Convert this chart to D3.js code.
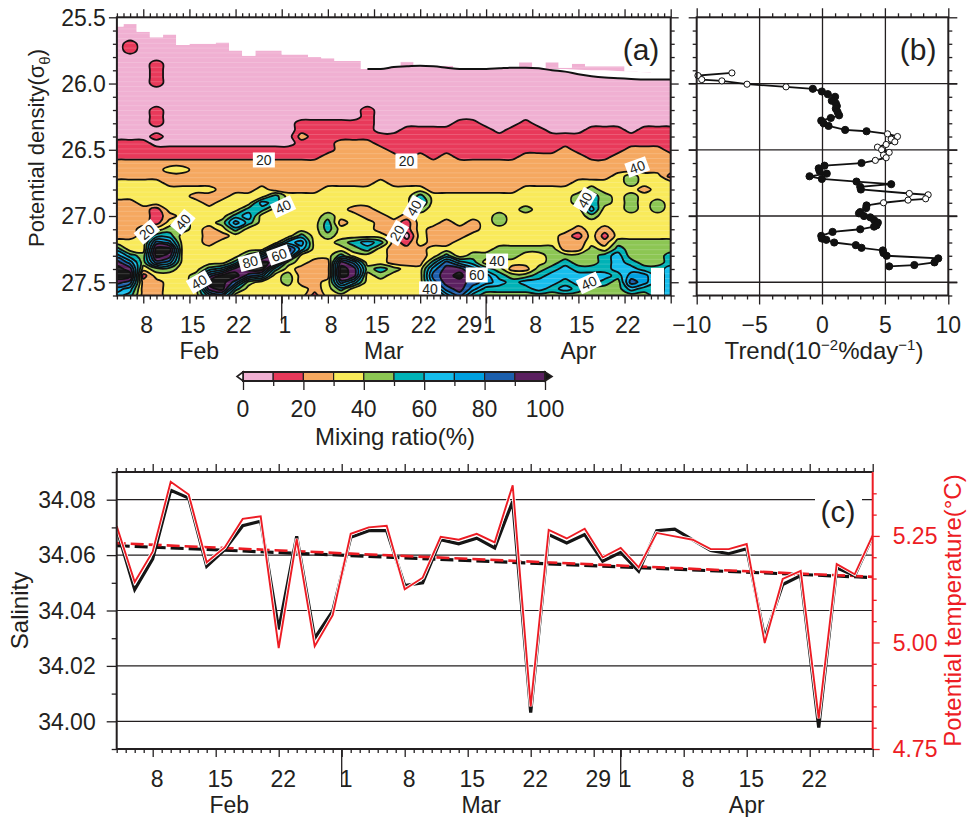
<!DOCTYPE html>
<html>
<head>
<meta charset="utf-8">
<script src="https://cdn.jsdelivr.net/npm/d3@7"></script>
<style>
  html, body { margin: 0; padding: 0; background: #fff; }
  svg { display: block; }
  text { font-family: "Liberation Sans", Arial, Helvetica, sans-serif; fill: #231f20; }
</style>
</head>
<body>
<svg id="fig" width="967" height="817"></svg>
<script>
// ---------------- data ----------------
// CTD profiles, one every two days
const profileDates = [
  "2009-02-04","2009-02-06","2009-02-08","2009-02-10","2009-02-12","2009-02-14","2009-02-16",
  "2009-02-18","2009-02-20","2009-02-22","2009-02-24","2009-02-26","2009-02-28",
  "2009-03-02","2009-03-04","2009-03-06","2009-03-08","2009-03-10","2009-03-12","2009-03-14",
  "2009-03-16","2009-03-18","2009-03-20","2009-03-22","2009-03-24","2009-03-26","2009-03-28","2009-03-30",
  "2009-04-01","2009-04-03","2009-04-05","2009-04-07","2009-04-09","2009-04-11","2009-04-13",
  "2009-04-15","2009-04-17","2009-04-19","2009-04-21","2009-04-23","2009-04-25","2009-04-27","2009-04-29"
];

// (c) mean salinity and potential temperature
const salinity = [
  34.0695, 34.0476, 34.0586, 34.0834, 34.0806, 34.0560, 34.0620, 34.0706, 34.0722, 34.0332,
  34.0668, 34.0300, 34.0398, 34.0664, 34.0688, 34.0688, 34.0490, 34.0500, 34.0656, 34.0641,
  34.0661, 34.0626, 34.0794, 34.0031, 34.0674, 34.0644, 34.0674, 34.0578, 34.0610, 34.0542,
  34.0688, 34.0694, 34.0655, 34.0617, 34.0605, 34.0623, 34.0301, 34.0494, 34.0526, 33.9977,
  34.0554, 34.0526, 34.0668
];
const temperature = [
  5.273, 5.142, 5.213, 5.377, 5.347, 5.188, 5.223, 5.290, 5.296, 4.987,
  5.243, 4.991, 5.064, 5.255, 5.270, 5.274, 5.125, 5.152, 5.248, 5.241,
  5.255, 5.235, 5.369, 4.850, 5.264, 5.244, 5.267, 5.200, 5.222, 5.176,
  5.257, 5.249, 5.241, 5.219, 5.219, 5.231, 4.999, 5.149, 5.168, 4.822,
  5.184, 5.160, 5.251
];
const salinityTrend = [34.0634, 34.0519];
const temperatureTrend = [5.233, 5.154];

// (b) trend of the mixing ratio on density surfaces
const trendDensity = [
  25.92, 25.94, 25.97, 25.98, 26.005, 26.025, 26.04, 26.06, 26.08, 26.10,
  26.13, 26.15, 26.17, 26.19, 26.215, 26.24, 26.26, 26.28, 26.30, 26.32,
  26.35, 26.36, 26.38, 26.40, 26.42, 26.44, 26.46, 26.48, 26.50, 26.52,
  26.54, 26.56, 26.58, 26.60, 26.62, 26.64, 26.66, 26.68, 26.70, 26.72,
  26.74, 26.76, 26.78, 26.80, 26.83, 26.84, 26.87, 26.88, 26.90, 26.92,
  26.94, 26.97, 26.98, 27.00, 27.01, 27.03, 27.05, 27.07, 27.08, 27.10,
  27.12, 27.15, 27.17, 27.18, 27.20, 27.22, 27.24, 27.26, 27.28, 27.30,
  27.32, 27.35, 27.37, 27.38
];
const trendValue = [
  -7.2, -9.9, -9.6, -8.0, -6.0, -2.9, -0.77, -0.05, 0.42, 1.0,
  0.74, 1.06, 1.14, 1.06, 1.2, 1.32, 0.66, -0.1, 0.08, 0.48,
  1.8, 3.5, 5.17, 5.96, 5.46, 5.75, 5.06, 4.37, 4.7, 5.3,
  4.85, 5.06, 4.2, 3.1, 0.16, -0.3, -0.24, 0.34, -1.03, -0.05,
  2.7, 5.46, 3.0, 3.05, 6.9, 8.4, 8.2, 6.8, 4.85, 3.5,
  3.47, 3.0, 2.9, 3.3, 3.8, 4.1, 4.4, 4.3, 4.1, 3.0,
  0.8, -0.1, -0.05, 0.3, 0.93, 2.65, 3.1, 4.8, 4.85, 5.1,
  9.2, 8.9, 7.3, 5.3
];
const trendSignificant = [
  0,0,0,0,0,0,1,1,1,1, 1,1,1,1,1,1,1,1,1,1, 1,1,0,0,0,0,0,0,0,0,
  0,0,0,1,1,1,1,1,1,1, 1,1,1,1,0,0,0,0,0,1, 1,1,1,1,1,1,1,1,1,1,
  1,1,1,1,1,1,1,1,1,1, 1,1,1,1
];

// (a) mixing ratio: one string per profile, one character per density row
// (digit n = the n-th 10 % band, "x" = above 100 %), rows start at 25.50 and step by 0.05
const densityFirstRow = 25.5;
const densityRowStep = 0.05;
const mixingColumns = [
  "00000000000000000001112223332222223579xx976",
  "000011000000000000011122233322222233579x865",
  "0000000000000000000111222333322233334431222",
  "00000001111000111010112223333111358xx843222",
  "00000000000000000000112322333323457x9743333",
  "0000000000000000000011232233333443333333333",
  "0000000000000000000011222232333333333334433",
  "0000000000000000000011222232233322233358x96",
  "000000000000000000001122222233343233336xxx7",
  "000000000000000000001122222333575333359x853",
  "000000000000000000001122222335653333 59x8433".replace(" ", ""),
  "0000000000000000000011222233653333337xx7333",
  "000000000000000000001122222553333337x953333",
  "0000000000000000000011222223333333698434433",
  "0000000000000000112111222223333335763322233",
  "0000000000000000111111222223333333333222221",
  "0000000000000000111112222233334554333222333",
  "00000000000000001112222222333332334359xx853",
  "0000000000000000111222222233323333543799633",
  "0000000000000011111222222233322333653343333",
  "0000000000000000001122222333332223533354333",
  "0000000000000000001112222233333222222243333",
  "0000000000000000011111222233332110122233333",
  "0000000000000000011112222235643333322233333",
  "0000000000000000011111222223333322233578753",
  "0000000000000000011112222223333222235899986",
  "0000000000000000111111222223333322333 69x998".replace(" ", ""),
  "0000000000000000111111222223333223334578875",
  "0000000000000000011111222223333333334357754",
  "0000000000000000001111222223334433344345654",
  "0000000000000000011111222223333333344324554",
  "0000000000000000111112222233343333343324654",
  "0000000000000000011112222233333333343345664",
  "0000000000000000001112222233333333344456654",
  "0000000000000000001122222233333332224566564",
  "0000000000000000001112222334433321224456654",
  "0000000000000000011111222345564333344456644",
  "0000000000000000011111222334433321235556544",
  "0000000000000000011112223333333333456665444",
  "0000000000000000001122224434443333444567864",
  "0000000000000000011122223323333333444457754",
  "0000000000000000011122223333443333444455555",
  "0000000000000000011112221333333333445566666"
];
// shallowest and deepest density with data, per profile
const dataTop = [
  25.57, 25.55, 25.61, 25.65, 25.63, 25.71, 25.70, 25.70, 25.69, 25.75,
  25.79, 25.75, 25.75, 25.78, 25.78, 25.80, 25.81, 25.83, 25.83, 25.89,
  25.89, 25.875, 25.835, 25.865, 25.87, 25.865, 25.89, 25.89, 25.89, 25.885,
  25.88, 25.84, 25.885, 25.84, 25.88, 25.85, 25.87, 25.87, 25.87, 25.91,
  25.915, 25.92, 25.92
];
const dataBottom = [
  27.6, 27.6, 27.6, 27.6, 27.6, 27.6, 27.6, 27.6, 27.6, 27.6,
  27.6, 27.6, 27.6, 27.6, 27.6, 27.6, 27.6, 27.6, 27.6, 27.6,
  27.6, 27.6, 27.6, 27.6, 27.6, 27.6, 27.6, 27.6, 27.6, 27.6,
  27.6, 27.6, 27.6, 27.6, 27.6, 27.6, 27.6, 27.6, 27.6, 27.6,
  27.6, 27.39, 27.6
];
// upper rim of the surface layer (profiles 19..42) and the gap above it (profiles 33..42)
const rimFirst = 19;
const rimLine = [
  25.89, 25.89, 25.875, 25.87, 25.865, 25.87, 25.88, 25.89, 25.89, 25.89,
  25.885, 25.88, 25.88, 25.885, 25.9, 25.91, 25.93, 25.945, 25.955, 25.96,
  25.965, 25.97, 25.97, 25.97
];
const gapFirst = 33;
const rimGapTop = [25.89, 25.89, 25.895, 25.9, 25.9, 25.905, 25.91, 25.915, 25.92, 25.92];

// inline contour labels
const contourLabelText = ["20","20","40","40","20","40","20","40","40","80","60","40","40","60","40","40"];
const contourLabelTime = [
  "2009-02-26T07:00Z","2009-03-19T22:00Z","2009-04-23T22:00Z","2009-03-01T05:00Z",
  "2009-02-08T13:00Z","2009-02-14T00:00Z","2009-03-18T12:00Z","2009-03-21T02:00Z",
  "2009-04-16T00:00Z","2009-02-24T05:00Z","2009-02-28T14:00Z","2009-02-16T11:00Z",
  "2009-03-23T12:00Z","2009-03-30T14:00Z","2009-04-02T16:00Z","2009-04-16T14:00Z"
];
const contourLabelDensity = [26.577, 26.585, 26.63, 26.93, 27.12, 27.045, 27.128, 26.94, 26.879, 27.347, 27.294, 27.498, 27.55, 27.445, 27.34, 27.505];
const contourLabelAngle = [0, 0, -20, -25, -40, -50, -60, -60, -60, -15, -20, -30, 0, 0, 0, -25];

const mixLevels = [0, 10, 20, 30, 40, 50, 60, 70, 80, 90, 100];
const mixColors = ["#f0b0d2", "#e8395a", "#f5a860", "#f9ea5a", "#8cc653", "#00b2b6", "#16bdec", "#00a0e0", "#1c5fad", "#5b2060"];
const overflowColor = "#161616";
const labelledDays = [1, 8, 15, 22, 29];

// ---------------- drawing ----------------
const ink = "#231f20";
const red = "#ed1c24";
const svg = d3.select("#fig");
const dates = profileDates.map(d => new Date(d + "T00:00Z"));
const tickFont = 23;

// panel layouts
const A = { l: 116.9, r: 670.7, t: 17.3, b: 295.5 };
const B = { l: 696.7, r: 948.3, t: 17.3, b: 295.5 };
const C = { l: 116.7, r: 872.7, t: 472, b: 749 };
const CB = { l: 243, r: 545, t: 372, b: 381 };

const xA = d3.scaleUtc().domain(d3.extent(dates)).range([A.l, A.r]);
const yA = d3.scaleLinear().domain([25.5, 27.6]).range([A.t, A.b]);
const xB = d3.scaleLinear().domain([-10, 10]).range([B.l, B.r]);
const xC = d3.scaleUtc().domain(d3.extent(dates)).range([C.l, C.r]);
const yS = d3.scaleLinear().domain([33.99, 34.09]).range([C.b, C.t]);
const yT = d3.scaleLinear().domain([4.75, 5.40]).range([C.b, C.t]);
const xCB = d3.scaleLinear().domain([0, 100]).range([CB.l, CB.r]);

const defs = svg.append("defs");
defs.append("clipPath").attr("id", "clipA").append("rect")
  .attr("x", A.l).attr("y", A.t).attr("width", A.r - A.l).attr("height", A.b - A.t);
defs.append("clipPath").attr("id", "clipC").append("rect")
  .attr("x", C.l).attr("y", C.t - 2).attr("width", C.r - C.l).attr("height", C.b - C.t + 4);

function styleAxis(g) {
  g.select(".domain").remove();
  g.selectAll(".tick line").attr("stroke-width", 1.3);
  g.selectAll(".tick text").remove();
}

// daily ticks, weekly longer ticks, month boundaries, day & month labels
function timeAxis(x, top, bottom, monthTick, dayBase, monthBase) {
  const [d0, d1] = x.domain();
  const days = d3.utcDay.range(d0, d3.utcDay.offset(d1, 1));
  const major = days.filter(d => labelledDays.includes(d.getUTCDate()));
  const minor = days.filter(d => !labelledDays.includes(d.getUTCDate()));
  const g = svg.append("g").attr("color", ink);
  g.append("g").attr("transform", `translate(0,${bottom})`)
    .call(d3.axisBottom(x).tickValues(minor).tickSize(4).tickFormat("")).call(styleAxis);
  g.append("g").attr("transform", `translate(0,${bottom})`)
    .call(d3.axisBottom(x).tickValues(major).tickSize(8).tickFormat("")).call(styleAxis);
  g.append("g").attr("transform", `translate(0,${top})`)
    .call(d3.axisTop(x).tickValues(minor).tickSize(4).tickFormat("")).call(styleAxis);
  g.append("g").attr("transform", `translate(0,${top})`)
    .call(d3.axisTop(x).tickValues(major).tickSize(8).tickFormat("")).call(styleAxis);
  d3.utcMonth.range(d0, d1).forEach(m => {
    g.append("line").attr("x1", x(m)).attr("x2", x(m))
      .attr("y1", bottom).attr("y2", bottom + monthTick)
      .attr("stroke", ink).attr("stroke-width", 1.3);
  });
  major.forEach(d => {
    const noon = d3.utcHour.offset(d, 12);
    if (noon > d1) return;
    g.append("text").attr("x", x(noon)).attr("y", dayBase)
      .attr("text-anchor", "middle").attr("font-size", tickFont).text(d.getUTCDate());
  });
  d3.utcMonth.range(d3.utcMonth.floor(d0), d1).forEach(m => {
    const a = m < d0 ? d0 : m;
    const e = d3.utcMonth.offset(m, 1);
    const b = e > d1 ? d1 : e;
    g.append("text").attr("x", (x(a) + x(b)) / 2).attr("y", monthBase)
      .attr("text-anchor", "middle").attr("font-size", tickFont)
      .text(d3.utcFormat("%b")(m));
  });
}

function densityTicks(xPos, side, withLabels, majorLen) {
  const minor = d3.range(25.5, 27.61, 0.1).map(v => +v.toFixed(2));
  const major = [25.5, 26.0, 26.5, 27.0, 27.5];
  const mk = side === "left" ? d3.axisLeft : d3.axisRight;
  const g = svg.append("g").attr("color", ink);
  g.append("g").attr("transform", `translate(${xPos},0)`)
    .call(mk(yA).tickValues(minor.filter(v => !major.includes(v))).tickSize(4).tickFormat("")).call(styleAxis);
  g.append("g").attr("transform", `translate(${xPos},0)`)
    .call(mk(yA).tickValues(major).tickSize(majorLen).tickFormat("")).call(styleAxis);
  if (withLabels) {
    major.forEach(v => g.append("text").attr("x", xPos - 11).attr("y", yA(v)).attr("dy", "0.36em")
      .attr("text-anchor", "end").attr("font-size", tickFont).text(d3.format(".1f")(v)));
  }
}

// ---------- panel (a): mixing ratio ----------
const nx = mixingColumns.length, ny = mixingColumns[0].length;
const grid = new Array(nx * ny);
for (let i = 0; i < nx; i++) {
  for (let j = 0; j < ny; j++) {
    const ch = mixingColumns[i][j] ?? "3";
    grid[j * nx + i] = ch === "x" ? 105 : (+ch) * 10 + 5;
  }
}
const colStep = dates[1] - dates[0];
const gx2px = gx => xA(new Date(+dates[0] + (gx - 0.5) * colStep));
const gy2px = gy => yA(densityFirstRow + (gy - 0.5) * densityRowStep);
const clampX = v => Math.max(A.l, Math.min(A.r, v));

// region holding data (stepped, one step per profile)
const region = [];
for (let k = 0; k < nx; k++) {
  const y = yA(dataTop[k]);
  region.push([clampX(gx2px(k)), y], [clampX(gx2px(k + 1)), y]);
}
for (let k = nx - 1; k >= 0; k--) {
  const y = yA(dataBottom[k]);
  region.push([clampX(gx2px(k + 1)), y], [clampX(gx2px(k)), y]);
}
const regionPath = "M" + region.map(p => p.join(",")).join("L") + "Z";
defs.append("clipPath").attr("id", "clipData").append("path").attr("d", regionPath);

const gA = svg.append("g").attr("clip-path", "url(#clipA)");
const gData = gA.append("g").attr("clip-path", "url(#clipData)");
gData.append("path").attr("d", regionPath).attr("fill", mixColors[0]);

const bands = d3.contours().size([nx, ny]).thresholds(mixLevels.slice(1))(grid);
const ringLine = d3.line().curve(d3.curveCatmullRomClosed.alpha(0.5));
const bandPath = c => c.coordinates.map(poly => poly.map(ring =>
  ringLine(ring.slice(0, -1).map(([x, y]) => [gx2px(x), gy2px(y)]))).join("")).join("");
const bandColor = v => v >= 100 ? overflowColor : mixColors[mixLevels.indexOf(v)];

gData.selectAll("path.band").data(bands).join("path").attr("class", "band")
  .attr("d", bandPath).attr("fill", d => bandColor(d.value)).attr("stroke", "none");

// faint scan-line texture of the gridded image
const tex = gData.append("g").attr("stroke", "#ffffff").attr("stroke-opacity", 0.22).attr("stroke-width", 0.8);
for (let y = A.t + 2; y < A.b; y += 4.8) {
  tex.append("line").attr("x1", A.l).attr("x2", A.r).attr("y1", y).attr("y2", y);
}

gData.selectAll("path.iso").data(bands).join("path").attr("class", "iso")
  .attr("d", bandPath).attr("fill", "none").attr("stroke", "#111").attr("stroke-width", 1.8)
  .attr("stroke-linejoin", "round");

// gap above the surface rim and the rim line
const gapPts = rimGapTop.map((v, i) => [xA(dates[gapFirst + i]), yA(v)])
  .concat(rimGapTop.map((v, i) => [xA(dates[gapFirst + i]), yA(rimLine[gapFirst + i - rimFirst])]).reverse());
gA.append("path").attr("d", "M" + gapPts.map(p => p.join(",")).join("L") + "Z").attr("fill", "#fff");
gA.append("path")
  .attr("d", d3.line().curve(d3.curveMonotoneX).x((v, i) => xA(dates[rimFirst + i])).y(v => yA(v))(rimLine))
  .attr("fill", "none").attr("stroke", "#111").attr("stroke-width", 2);

// contour labels
contourLabelText.forEach((t, i) => {
  const g = gA.append("g").attr("transform",
    `translate(${xA(new Date(contourLabelTime[i]))},${yA(contourLabelDensity[i])}) rotate(${contourLabelAngle[i]})`);
  g.append("rect").attr("x", -11).attr("y", -7.5).attr("width", 22).attr("height", 15).attr("fill", "#fff");
  g.append("text").attr("text-anchor", "middle").attr("dy", "0.36em").attr("font-size", 14).text(t);
});

svg.append("rect").attr("x", A.l).attr("y", A.t).attr("width", A.r - A.l).attr("height", A.b - A.t)
  .attr("fill", "none").attr("stroke", ink).attr("stroke-width", 2);
timeAxis(xA, A.t, A.b, 28, 333, 359);
densityTicks(A.l, "left", true, 8);
densityTicks(A.r, "right", false, 8);
svg.append("text").attr("x", xA(new Date("2009-04-24T12:00Z"))).attr("y", yA(25.5) + 43)
  .attr("text-anchor", "middle").attr("font-size", 30).text("(a)");
svg.append("text").attr("transform", `translate(44,148) rotate(-90)`)
  .attr("text-anchor", "middle").attr("font-size", 22)
  .call(t => {
    t.append("tspan").text("Potential density(σ");
    t.append("tspan").attr("font-size", 15).attr("dy", 6).text("θ");
    t.append("tspan").attr("dy", -6).text(")");
  });

// ---------- colour bar ----------
const gCB = svg.append("g");
mixColors.forEach((c, i) => {
  gCB.append("rect").attr("x", xCB(mixLevels[i])).attr("y", CB.t)
    .attr("width", xCB(mixLevels[i + 1]) - xCB(mixLevels[i])).attr("height", CB.b - CB.t)
    .attr("fill", c).attr("stroke", ink).attr("stroke-width", 1.2);
});
gCB.append("rect").attr("x", CB.l).attr("y", CB.t).attr("width", CB.r - CB.l).attr("height", CB.b - CB.t)
  .attr("fill", "none").attr("stroke", ink).attr("stroke-width", 2);
const cm = (CB.t + CB.b) / 2;
gCB.append("path").attr("d", `M${CB.l},${CB.t}L${CB.l - 6},${cm}L${CB.l},${CB.b}Z`)
  .attr("fill", "#fff").attr("stroke", ink).attr("stroke-width", 1.6);
gCB.append("path").attr("d", `M${CB.r},${CB.t}L${CB.r + 7},${cm}L${CB.r},${CB.b}Z`)
  .attr("fill", overflowColor).attr("stroke", ink).attr("stroke-width", 1.6);
gCB.append("g").attr("color", ink).attr("transform", `translate(0,${CB.b})`)
  .call(d3.axisBottom(xCB).tickValues(mixLevels.filter(v => v % 20 !== 0)).tickSize(5).tickFormat("")).call(styleAxis);
gCB.append("g").attr("color", ink).attr("transform", `translate(0,${CB.b})`)
  .call(d3.axisBottom(xCB).tickValues(mixLevels.filter(v => v % 20 === 0)).tickSize(9).tickFormat("")).call(styleAxis);
mixLevels.filter(v => v % 20 === 0).forEach(v => gCB.append("text").attr("x", xCB(v)).attr("y", 417)
  .attr("text-anchor", "middle").attr("font-size", tickFont).text(v));
gCB.append("text").attr("x", (CB.l + CB.r) / 2 + 1).attr("y", 445).attr("text-anchor", "middle")
  .attr("font-size", 24).text("Mixing ratio(%)");

// ---------- panel (b): trend ----------
const gB = svg.append("g");
[-5, 0, 5].forEach(v => gB.append("line").attr("x1", xB(v)).attr("x2", xB(v)).attr("y1", B.t - 9).attr("y2", B.b + 9)
  .attr("stroke", ink).attr("stroke-width", 1.3));
[26.0, 26.5, 27.0, 27.5].forEach(v => gB.append("line").attr("x1", B.l - 8).attr("x2", B.r + 9).attr("y1", yA(v)).attr("y2", yA(v))
  .attr("stroke", ink).attr("stroke-width", 1.3));
{
  const minor = d3.range(-10, 10.1, 1).filter(v => v % 5 !== 0);
  const major = [-10, 10];
  const g = gB.append("g").attr("color", ink);
  g.append("g").attr("transform", `translate(0,${B.b})`).call(d3.axisBottom(xB).tickValues(minor).tickSize(4).tickFormat("")).call(styleAxis);
  g.append("g").attr("transform", `translate(0,${B.t})`).call(d3.axisTop(xB).tickValues(minor).tickSize(4).tickFormat("")).call(styleAxis);
  g.append("g").attr("transform", `translate(0,${B.b})`).call(d3.axisBottom(xB).tickValues(major).tickSize(9).tickFormat("")).call(styleAxis);
  g.append("g").attr("transform", `translate(0,${B.t})`).call(d3.axisTop(xB).tickValues(major).tickSize(9).tickFormat("")).call(styleAxis);
  [-10, -5, 0, 5, 10].forEach(v => g.append("text").attr("x", xB(v) + (v < 0 ? -5 : 0)).attr("y", 333)
    .attr("text-anchor", "middle").attr("font-size", tickFont).text(d3.format("d")(v)));
}
densityTicks(B.l, "left", false, 8);
densityTicks(B.r, "right", false, 9);
gB.append("path")
  .attr("d", d3.line().x(d => xB(d[0])).y(d => yA(d[1]))(trendValue.map((v, i) => [v, trendDensity[i]])))
  .attr("fill", "none").attr("stroke", "#111").attr("stroke-width", 1.8);
gB.selectAll("circle").data(trendValue).join("circle")
  .attr("cx", d => xB(d)).attr("cy", (d, i) => yA(trendDensity[i]))
  .attr("r", (d, i) => trendSignificant[i] ? 3.6 : 3.1)
  .attr("fill", (d, i) => trendSignificant[i] ? "#111" : "#fff")
  .attr("stroke", "#111").attr("stroke-width", 1);
svg.append("rect").attr("x", B.l).attr("y", B.t).attr("width", B.r - B.l).attr("height", B.b - B.t)
  .attr("fill", "none").attr("stroke", ink).attr("stroke-width", 2);
svg.append("text").attr("x", xB(7.6)).attr("y", yA(25.5) + 43).attr("text-anchor", "middle")
  .attr("font-size", 30).text("(b)");
svg.append("text").attr("x", 824).attr("y", 359).attr("text-anchor", "middle").attr("font-size", 24)
  .call(t => {
    t.append("tspan").text("Trend(10");
    t.append("tspan").attr("font-size", 15).attr("dy", -9).text("−2");
    t.append("tspan").attr("dy", 9).text("%day");
    t.append("tspan").attr("font-size", 15).attr("dy", -9).text("−1");
    t.append("tspan").attr("dy", 9).text(")");
  });

// ---------- panel (c): salinity & potential temperature ----------
const gC = svg.append("g");
[34.00, 34.02, 34.04, 34.06, 34.08].forEach(v => gC.append("line")
  .attr("x1", C.l).attr("x2", C.r).attr("y1", yS(v)).attr("y2", yS(v)).attr("stroke", ink).attr("stroke-width", 1.2));
const gCl = gC.append("g").attr("clip-path", "url(#clipC)");
const trendX = d3.extent(dates);
gCl.append("path").attr("d", d3.line().x(d => xC(d[0])).y(d => yS(d[1]))(trendX.map((d, i) => [d, salinityTrend[i]])))
  .attr("fill", "none").attr("stroke", "#111").attr("stroke-width", 3.2).attr("stroke-dasharray", "13,5");
gCl.append("path").attr("d", d3.line().x(d => xC(d[0])).y(d => yT(d[1]))(trendX.map((d, i) => [d, temperatureTrend[i]])))
  .attr("fill", "none").attr("stroke", red).attr("stroke-width", 2.6).attr("stroke-dasharray", "13,5").attr("stroke-dashoffset", 4);
gCl.append("path").attr("d", d3.line().x((d, i) => xC(dates[i])).y(d => yS(d))(salinity))
  .attr("fill", "none").attr("stroke", "#151515").attr("stroke-width", 3.2).attr("stroke-linejoin", "miter");
const tLine = d3.line().x((d, i) => xC(dates[i])).y(d => yT(d))(temperature);
gCl.append("path").attr("d", tLine).attr("fill", "none").attr("stroke", "#fff").attr("stroke-width", 3.6);
gCl.append("path").attr("d", tLine).attr("fill", "none").attr("stroke", red).attr("stroke-width", 1.9);

// left salinity axis
{
  const g = gC.append("g").attr("color", ink);
  const major = [34.00, 34.02, 34.04, 34.06, 34.08];
  const minor = [33.99, 34.01, 34.03, 34.05, 34.07, 34.09];
  g.append("g").attr("transform", `translate(${C.l},0)`).call(d3.axisLeft(yS).tickValues(minor).tickSize(5).tickFormat("")).call(styleAxis);
  g.append("g").attr("transform", `translate(${C.l},0)`).call(d3.axisLeft(yS).tickValues(major).tickSize(10).tickFormat("")).call(styleAxis);
  major.forEach(v => g.append("text").attr("x", C.l - 21).attr("y", yS(v)).attr("dy", "0.36em")
    .attr("text-anchor", "end").attr("font-size", tickFont).text(d3.format(".2f")(v)));
}
// right temperature axis
{
  const g = gC.append("g").attr("color", red);
  const major = [4.75, 5.00, 5.25];
  const minor = [4.80, 4.85, 4.90, 4.95, 5.05, 5.10, 5.15, 5.20, 5.30, 5.35];
  g.append("g").attr("transform", `translate(${C.r},0)`).call(d3.axisRight(yT).tickValues(minor).tickSize(4).tickFormat("")).call(styleAxis);
  g.append("g").attr("transform", `translate(${C.r},0)`).call(d3.axisRight(yT).tickValues(major).tickSize(7).tickFormat("")).call(styleAxis);
  major.forEach(v => g.append("text").attr("x", C.r + 20).attr("y", yT(v)).attr("dy", "0.36em")
    .attr("text-anchor", "start").attr("font-size", tickFont).style("fill", red).text(d3.format(".2f")(v)));
}
gC.append("path").attr("d", `M${C.r},${C.t}H${C.l}V${C.b}H${C.r}`).attr("fill", "none").attr("stroke", ink).attr("stroke-width", 2);
gC.append("line").attr("x1", C.r).attr("x2", C.r).attr("y1", C.t).attr("y2", C.b).attr("stroke", red).attr("stroke-width", 2);
timeAxis(xC, C.t, C.b, 38, 787, 813);
gC.append("rect").attr("x", 815).attr("y", 495).attr("width", 47).attr("height", 34).attr("fill", "#fff");
gC.append("text").attr("x", 838).attr("y", 522).attr("text-anchor", "middle").attr("font-size", 30).text("(c)");
svg.append("text").attr("transform", `translate(28,${(C.t + C.b) / 2}) rotate(-90)`)
  .attr("text-anchor", "middle").attr("font-size", 24).text("Salinity");
svg.append("text").attr("transform", `translate(961,${(C.t + C.b) / 2}) rotate(-90)`)
  .attr("text-anchor", "middle").attr("font-size", 24).style("fill", red).text("Potential temperature(°C)");
</script>
</body>
</html>
